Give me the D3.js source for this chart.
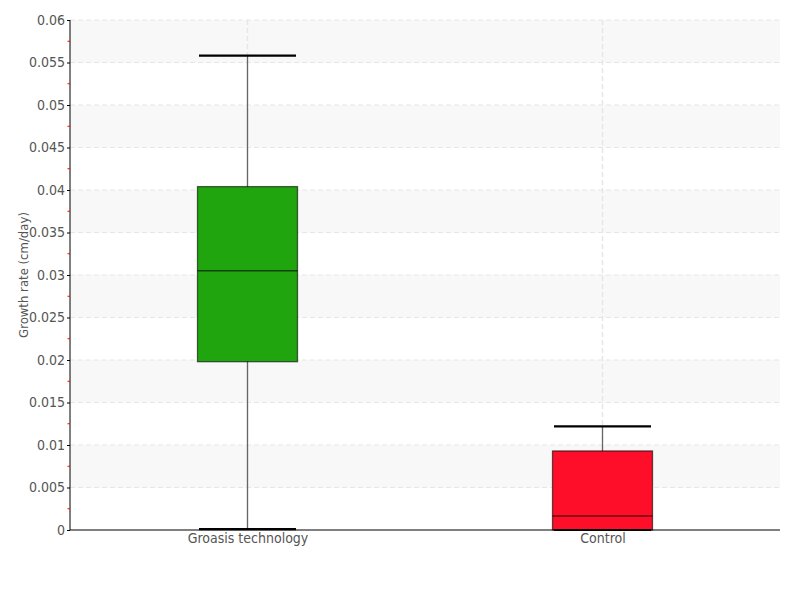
<!DOCTYPE html>
<html><head><meta charset="utf-8">
<script src="https://cdn.jsdelivr.net/npm/d3@7"></script>
<style>
body{margin:0;background:#fff;}
text{font-family:'DejaVu Sans',sans-serif;font-stretch:condensed;}
</style></head>
<body><svg id="c" width="800" height="600"></svg>
<script>
const categories = ["Groasis technology", "Control"];
const whiskerLow = [0.0001, 0.0];
const q1 = [0.0198, 0.0];
const median = [0.0305, 0.00165];
const q3 = [0.0404, 0.0093];
const whiskerHigh = [0.0558, 0.0122];
const colors = ["#21a50f", "#ff0e2a"];
const yTicks = [0, 0.005, 0.01, 0.015, 0.02, 0.025, 0.03, 0.035, 0.04, 0.045, 0.05, 0.055, 0.06];
const yTickLabels = ["0", "0.005", "0.01", "0.015", "0.02", "0.025", "0.03", "0.035", "0.04", "0.045", "0.05", "0.055", "0.06"];
const yLabel = "Growth rate (cm/day)";

const svg = d3.select("#c");
const L = 70, R = 780, T = 20, B = 530;
const y = d3.scaleLinear().domain([0, 0.06]).range([B, T]);
const x = d3.scalePoint().domain(categories).range([L, R]).padding(0.5);

const bands = [];
for (let i = 0; i < yTicks.length - 1; i++) bands.push([yTicks[i], yTicks[i + 1], i]);
svg.append("g").selectAll("rect").data(bands.filter(b => b[2] % 2 === 1)).join("rect")
  .attr("x", L).attr("width", R - L)
  .attr("y", d => y(d[1])).attr("height", d => y(d[0]) - y(d[1]))
  .attr("fill", "#f8f8f8");

svg.append("g").selectAll("line").data(yTicks.slice(1)).join("line")
  .attr("x1", L).attr("x2", R).attr("y1", d => y(d)).attr("y2", d => y(d))
  .attr("stroke", "#e6e6e6").attr("stroke-dasharray", "5,3");
svg.append("g").selectAll("line").data(categories).join("line")
  .attr("x1", d => x(d)).attr("x2", d => x(d)).attr("y1", T).attr("y2", B)
  .attr("stroke", "#e6e6e6").attr("stroke-width", 1.5).attr("stroke-dasharray", "5,3");

const bw = 100, cw = 97;
const g = svg.append("g");
categories.forEach((c, i) => {
  const cx = x(c);
  g.append("line").attr("x1", cx).attr("x2", cx)
    .attr("y1", y(whiskerHigh[i])).attr("y2", y(whiskerLow[i]))
    .attr("stroke", "#666").attr("stroke-width", 1.3);
  g.append("rect").attr("x", cx - bw / 2).attr("width", bw)
    .attr("y", y(q3[i])).attr("height", y(q1[i]) - y(q3[i]))
    .attr("fill", colors[i]).attr("stroke", "rgba(0,0,0,0.6)").attr("stroke-width", 1.3);
  g.append("line").attr("x1", cx - bw / 2).attr("x2", cx + bw / 2)
    .attr("y1", y(median[i])).attr("y2", y(median[i]))
    .attr("stroke", "rgba(0,0,0,0.6)").attr("stroke-width", 1.3);
  [whiskerHigh[i], whiskerLow[i]].forEach(v => {
    g.append("line").attr("x1", cx - cw / 2).attr("x2", cx + cw / 2)
      .attr("y1", y(v)).attr("y2", y(v))
      .attr("stroke", "#000").attr("stroke-width", 2.2);
  });
});

const ya = svg.append("g").attr("transform", `translate(${L},0)`)
  .call(d3.axisLeft(y).tickValues(yTicks).tickFormat((d, i) => yTickLabels[i]).tickSize(3).tickPadding(2));
ya.select(".domain").attr("stroke", "#000").attr("d", `M0,${T}V${B}`);
ya.selectAll(".tick line").attr("stroke", "#000");
ya.selectAll(".tick text").attr("fill", "#555").style("font-size", "14px");
svg.append("g").selectAll("line").data(yTicks.slice(0, -1).map(d => d + 0.0025)).join("line")
  .attr("x1", L - 2.5).attr("x2", L).attr("y1", d => y(d)).attr("y2", d => y(d))
  .attr("stroke", "#ff0000");

const xa = svg.append("g").attr("transform", `translate(0,${B})`)
  .call(d3.axisBottom(x).tickSize(0).tickPadding(3));
xa.select(".domain").attr("stroke", "#000").attr("d", `M${L},0H${R}`);
xa.selectAll(".tick text").attr("fill", "#555").style("font-size", "14px");

svg.append("text").attr("transform", `translate(28,${(T + B) / 2}) rotate(-90)`)
  .attr("text-anchor", "middle").attr("fill", "#555").style("font-size", "13px").text(yLabel);
</script></body></html>
